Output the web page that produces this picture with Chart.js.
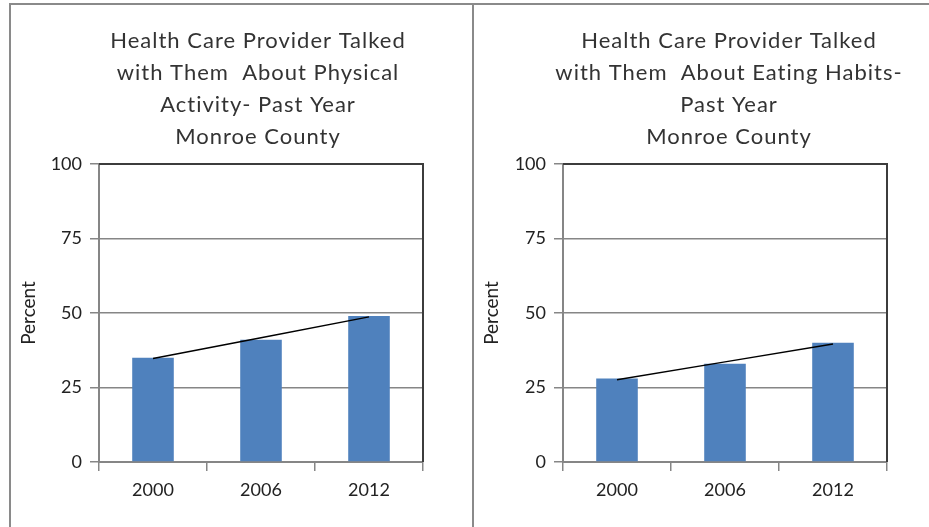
<!DOCTYPE html>
<html>
<head>
<meta charset="utf-8">
<script src="https://cdn.jsdelivr.net/npm/chart.js@4/dist/chart.umd.min.js"></script>
<style>
  html, body { margin: 0; padding: 0; background: #fff; }
  body { width: 929px; height: 527px; position: relative; overflow: hidden; }
  .rule { position: absolute; background: #8a8a8a; }
  .box { position: absolute; top: 5px; height: 522px; }
  .box canvas { display: block; }
</style>
</head>
<body>
<div class="rule" style="left:9px;top:3px;width:920px;height:2px"></div>
<div class="rule" style="left:9px;top:3px;width:2px;height:524px"></div>
<div class="rule" style="left:472px;top:3px;width:2px;height:524px"></div>
<div class="box" style="left:11px;width:461px"><canvas id="activity"></canvas></div>
<div class="box" style="left:474px;width:455px"><canvas id="eating"></canvas></div>
<script>
// Survey years
const years = ['2000', '2006', '2012'];

// Percent whose provider talked with them about physical activity
const activityPct = [35, 41, 49];
// Linear trend across the activity bars
const activityTrend = [34.7, 41.7, 48.7];

// Percent whose provider talked with them about eating habits
const eatingPct = [28, 33, 40];
// Linear trend across the eating-habit bars
const eatingTrend = [27.6, 33.6, 39.6];

// Y-axis ticks
const percentTicks = [0, 25, 50, 75, 100];

const activityTitle = ['Health Care Provider Talked', 'with Them  About Physical', 'Activity- Past Year', 'Monroe County'];
const eatingTitle = ['Health Care Provider Talked', 'with Them  About Eating Habits-', 'Past Year', 'Monroe County'];

const FONT = 'Lato, "Open Sans", sans-serif';
const GRID = '#868686';

// Dark frame on the top and right sides of the plot area
const plotFrame = {
  id: 'plotFrame',
  afterDatasetsDraw(chart) {
    const { ctx, chartArea: a } = chart;
    ctx.save();
    ctx.strokeStyle = '#3c3c3c';
    ctx.lineWidth = 2;
    ctx.beginPath();
    ctx.moveTo(a.left, a.top);
    ctx.lineTo(a.right, a.top);
    ctx.lineTo(a.right, a.bottom);
    ctx.stroke();
    ctx.restore();
  }
};

// Multi-line chart heading, drawn slightly letter-spaced
const titleBlock = {
  id: 'titleBlock',
  afterDraw(chart, args, opts) {
    const { ctx } = chart;
    ctx.save();
    ctx.font = `normal ${opts.size}px ${FONT}`;
    ctx.fillStyle = opts.color;
    ctx.textAlign = 'center';
    ctx.textBaseline = 'middle';
    if ('letterSpacing' in ctx) ctx.letterSpacing = opts.spacing;
    opts.lines.forEach((line, i) => {
      ctx.fillText(line, opts.centerX, opts.firstY + i * opts.lineGap);
    });
    ctx.restore();
  }
};

function makeChart(id, titleLines, values, trend, axisWidth, padRight, titleX) {
  return new Chart(document.getElementById(id), {
    type: 'bar',
    data: {
      labels: years,
      datasets: [
        {
          type: 'line',
          data: trend,
          borderColor: '#000',
          borderWidth: 1.5,
          pointRadius: 0,
          tension: 0,
          order: 0
        },
        {
          type: 'bar',
          data: values,
          backgroundColor: '#4F81BD',
          borderWidth: 0,
          categoryPercentage: 1,
          barPercentage: 0.385,
          order: 1
        }
      ]
    },
    options: {
      responsive: true,
      maintainAspectRatio: false,
      animation: false,
      events: [],
      layout: { padding: { left: 0, right: padRight, top: 159, bottom: 0 } },
      plugins: {
        legend: { display: false },
        tooltip: { enabled: false },
        title: { display: false },
        titleBlock: {
          lines: titleLines,
          size: 22,
          spacing: '1px',
          color: '#333',
          centerX: titleX,
          firstY: 35.5,
          lineGap: 32
        }
      },
      scales: {
        x: {
          offset: true,
          grid: {
            display: true,
            offset: true,
            drawOnChartArea: false,
            drawTicks: true,
            tickLength: 9,
            color: GRID,
            lineWidth: 1.5
          },
          border: { display: true, color: GRID, width: 2 },
          ticks: { color: '#222', padding: 8, font: { family: FONT, size: 18 } },
          afterFit(scale) { scale.height = 65; }
        },
        y: {
          min: 0,
          max: 100,
          afterBuildTicks(scale) { scale.ticks = percentTicks.map(v => ({ value: v })); },
          grid: {
            color: GRID,
            lineWidth: 1.5,
            drawTicks: true,
            tickLength: 9
          },
          border: { display: true, color: GRID, width: 2 },
          ticks: { color: '#222', padding: 8, font: { family: FONT, size: 18 } },
          title: {
            display: true,
            text: 'Percent',
            color: '#222',
            font: { family: FONT, size: 19 },
            padding: { top: 6, bottom: 0 }
          },
          afterFit(scale) { scale.width = axisWidth; }
        }
      }
    },
    plugins: [plotFrame, titleBlock]
  });
}

makeChart('activity', activityTitle, activityPct, activityTrend, 88, 49, 247);
makeChart('eating', eatingTitle, eatingPct, eatingTrend, 89, 42, 255);
</script>
</body>
</html>
